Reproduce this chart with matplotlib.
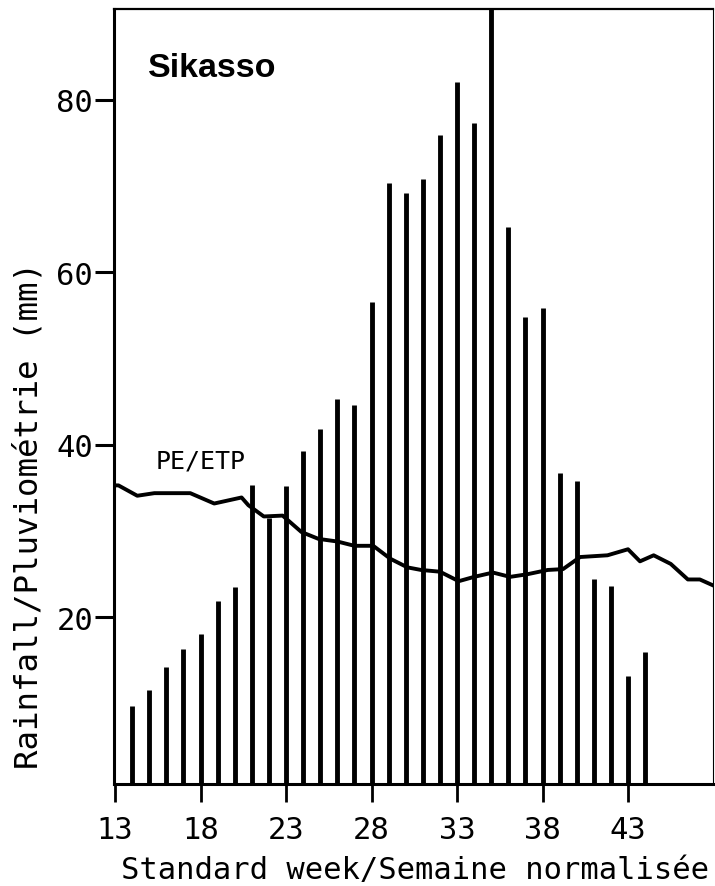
import matplotlib
matplotlib.use("Agg")
import matplotlib.pyplot as plt
from matplotlib.ticker import FixedLocator

# Weekly rainfall (mm), standard weeks 14-44
rain_weeks = list(range(14, 45))
rain_values = [9.7, 11.6, 14.2, 16.3, 18.1, 21.9, 23.5, 35.4, 31.5, 35.2,
               39.3, 41.8, 45.3, 44.6, 56.5, 70.3, 69.2, 70.8, 75.9, 82.0,
               77.3, 95.0, 65.2, 54.8, 55.9, 36.7, 35.8, 24.5, 23.7, 13.2, 16.0]

# Potential evapotranspiration PE/ETP curve
pet_weeks = [13.0, 13.2, 14.3, 15.3, 17.4, 18.8, 20.4, 20.8, 21.7, 22.8, 23.9,
             24.9, 26.0, 27.0, 28.1, 29.1, 30.1, 30.9, 32.0, 33.1, 34.0, 35.1,
             36.1, 37.1, 38.3, 39.2, 40.2, 41.8, 43.0, 43.7, 44.5, 45.5, 46.5,
             47.2, 48.1]
pet_values = [35.3, 35.3, 34.1, 34.4, 34.4, 33.2, 33.9, 33.0, 31.7, 31.8, 29.9,
              29.1, 28.8, 28.3, 28.3, 26.8, 25.8, 25.5, 25.3, 24.2, 24.7, 25.2,
              24.7, 25.0, 25.5, 25.6, 27.0, 27.2, 27.9, 26.5, 27.2, 26.2, 24.4,
              24.4, 23.6]

x_ticks = [13, 18, 23, 28, 33, 38, 43]
y_ticks = [20, 40, 60, 80]

W, H = 715, 887
fig = plt.figure(figsize=(W / 100, H / 100), dpi=100)
left, right, top, bottom = 114, 713, 10, 785
ax = fig.add_axes([left / W, 1 - bottom / H, (right - left) / W, (bottom - top) / H])

mono = "DejaVu Sans Mono"

ax.vlines(rain_weeks, 0, rain_values, colors="black", linewidth=3.5, capstyle="butt")
ax.plot(pet_weeks, pet_values, color="black", linewidth=2.8, solid_joinstyle="round")

ax.set_xlim(12.94, 47.97)
ax.set_ylim(0.7, 90.5)

ax.xaxis.set_major_locator(FixedLocator(x_ticks))
ax.yaxis.set_major_locator(FixedLocator(y_ticks))
ax.minorticks_off()

ax.tick_params(axis="x", which="major", direction="out", length=13, width=2.0,
               pad=9, labelsize=22)
ax.tick_params(axis="y", which="major", direction="out", length=13.5, width=2.2,
               pad=1.5, labelsize=22)
for lab in ax.get_xticklabels() + ax.get_yticklabels():
    lab.set_family(mono)

ax.spines["left"].set_linewidth(2.2)
ax.spines["bottom"].set_linewidth(2.2)
ax.spines["top"].set_linewidth(1.6)
ax.spines["right"].set_linewidth(0.8)

ax.set_xlabel("Standard week/Semaine normalisée", family=mono, fontsize=22, va="center")
ax.xaxis.set_label_coords(0.503, -0.110)
ax.set_ylabel("Rainfall/Pluviométrie (mm)", family=mono, fontsize=23.3, va="center")
ax.yaxis.set_label_coords(-0.142, 0.348)

ax.text(0.057, 0.9135, "Sikasso", transform=ax.transAxes, family="Liberation Sans",
        fontweight="bold", fontsize=24.5, ha="left", va="baseline")
ax.text(15.35, 37.4, "PE/ETP", family=mono, fontsize=18, ha="left", va="baseline")

fig.savefig("out.png", dpi=100)
